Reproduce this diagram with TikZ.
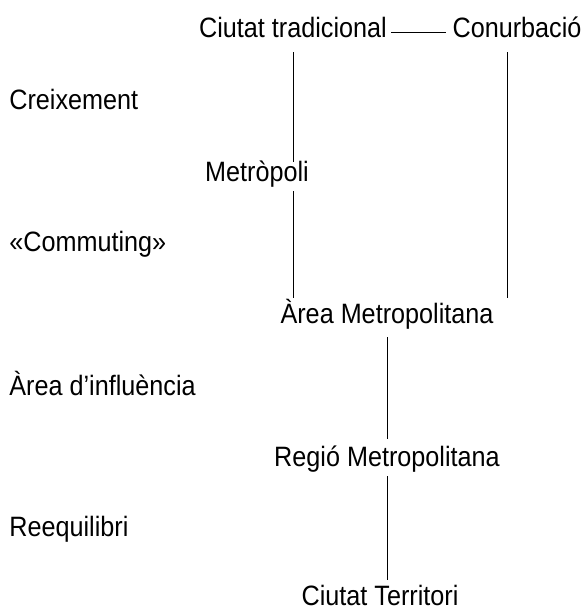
\documentclass[tikz,border=0pt]{standalone}
\usepackage{fontspec}
\setmainfont{Liberation Sans}[FakeStretch=0.9]
\usetikzlibrary{positioning}

\begin{document}
\begin{tikzpicture}[
  x=0.5pt, y=-0.5pt,
  font=\fontsize{14pt}{16pt}\selectfont,
  term/.style={anchor=base, inner sep=2pt, text height=0.72em, text depth=0.2em},
  stage/.style={term, anchor=base west},
  link/.style={line width=0.5pt, shorten <=3pt, shorten >=3pt}
]
\useasboundingbox (0,0) rectangle (585,608);

% Nodes (top to bottom)
\node[term] (trad) at (293,38) {Ciutat tradicional};
\node[term] (conurb) at (517,38) {Conurbació};
\node[term] (metro) at (257,182) {Metròpoli};
\node[term] (area) at (387,323) {Àrea Metropolitana};
\node[term] (regio) at (387,466) {Regió Metropolitana};
\node[term] (terr) at (380,605) {Ciutat Territori};

% Stage labels on the left
\node[stage] (creix) at (5,110) {Creixement};
\node[stage] (commut) at (5,252) {«Commuting»};
\node[stage] (influ) at (5,395) {Àrea d'influència};
\node[stage] (reeq) at (5,536) {Reequilibri};

% Connectors
\draw[link, shorten <=0pt, shorten >=1pt] (trad) -- (conurb);
\draw[link, shorten >=0.5pt] (trad.south) -- (trad.south |- metro.north);
\draw[link, shorten <=0.5pt] (trad.south |- metro.south) -- (trad.south |- area.north);
\draw[link] ([xshift=-5pt]conurb.south) -- ([xshift=-5pt]conurb.south |- area.north);
\draw[link, shorten >=4pt] (area.south) -- (regio.north);
\draw[link, shorten <=1pt] (regio.south) -- (regio.south |- terr.north);

\end{tikzpicture}
\end{document}
